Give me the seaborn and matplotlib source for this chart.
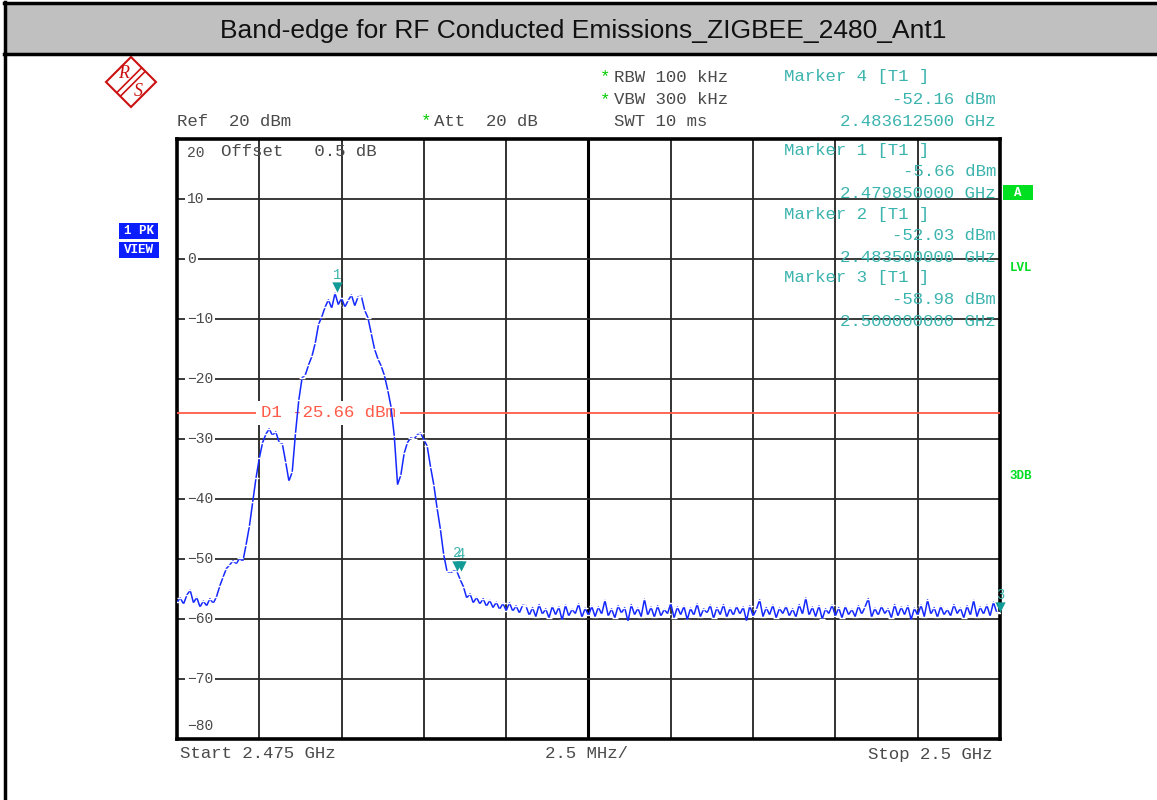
import numpy as np
import pandas as pd
import matplotlib
matplotlib.use("Agg")
import matplotlib.pyplot as plt
import matplotlib.patches as mpatches
from matplotlib import font_manager
from matplotlib.lines import Line2D
from matplotlib.transforms import offset_copy
import seaborn as sns

# sweep settings
start_ghz = 2.475
stop_ghz = 2.5
n_points = 251

# trace levels in dBm
levels = [
    -57.2, -56.5, -57.5, -56.0, -55.2, -57.3, -56.4, -58.0, -57.0, -57.8,
    -56.6, -57.4, -56.3, -54.5, -53.0, -51.6, -51.0, -50.3, -50.8, -49.9,
    -50.4, -47.6, -44.5, -40.5, -36.5, -33.2, -30.6, -29.2, -28.3, -29.4,
    -28.8, -30.5, -30.8, -33.8, -37.0, -35.5, -29.0, -23.5, -19.8, -19.3,
    -17.6, -16.2, -14.0, -10.9, -9.6, -8.0, -6.8, -8.2, -5.7, -7.6,
    -6.5, -8.0, -6.9, -6.0, -7.8, -6.3, -6.2, -8.5, -9.8, -12.4,
    -15.0, -16.6, -17.8, -19.4, -21.8, -24.6, -29.5, -37.6, -36.0, -32.4,
    -30.6, -29.8, -30.0, -29.3, -29.0, -30.1, -31.2, -34.6, -37.6, -41.5,
    -45.0, -49.2, -52.0, -52.4, -52.0, -52.03, -53.4, -54.6, -56.5, -55.8,
    -57.3, -56.4, -57.5, -56.6, -57.9, -56.9, -58.1, -57.2, -58.4, -57.4,
    -58.6, -57.3, -58.7, -57.8, -59.0, -57.7,
    -57.8, -59.4, -58.1, -59.6, -57.6, -59.2, -58.3, -59.8, -57.9, -59.3,
    -58.0, -60.2, -57.7, -59.5, -58.4, -59.1, -57.5, -59.7, -58.2, -59.4,
    -57.9, -59.6, -58.0, -59.2, -56.9, -59.5, -58.3, -59.8, -57.8, -59.0,
    -58.1, -60.4, -57.6, -59.3, -58.2, -59.6, -56.7, -59.4, -58.0, -59.7,
    -57.8, -59.5, -58.4, -59.1, -57.4, -59.8, -58.0, -59.3, -57.9, -60.1,
    -58.2, -59.4, -57.5, -59.6, -58.3, -59.0, -57.7, -59.9, -58.1, -59.3,
    -57.6, -59.7, -58.2, -59.4, -57.9, -59.2, -58.0, -60.3, -57.8, -59.5,
    -58.4, -56.8, -59.6, -58.1, -59.3, -57.7, -59.8, -58.2, -59.1, -57.9,
    -59.5, -58.3, -59.7, -57.6, -59.2, -56.5, -59.4, -58.0, -59.6, -57.8,
    -60.0, -58.3, -59.1, -57.7, -59.5, -58.1, -59.8, -57.9, -59.3, -58.4,
    -59.6, -57.8, -59.2, -58.0, -56.6, -59.7, -58.2, -59.4, -57.9, -59.1,
    -58.3, -59.8, -57.6, -59.5, -58.0, -59.3, -57.8, -60.1, -58.2, -59.4,
    -57.7, -59.6, -56.8, -59.2, -58.1, -59.7, -57.9, -59.3, -58.4, -59.5,
    -57.6, -59.1, -58.2, -59.8, -57.8, -59.4, -56.9, -59.6, -58.0, -59.2,
    -57.7, -59.5, -57.2, -58.9, -58.98,
]

# markers
marker_ids = ["1", "2", "3", "4"]
marker_freq = [2.47985, 2.4835, 2.5, 2.4836125]
marker_level = [-5.66, -52.03, -58.98, -52.16]

display_line = -25.66
y_ticks = [20, 10, 0, -10, -20, -30, -40, -50, -60, -70, -80]

freq = np.linspace(start_ghz, stop_ghz, n_points)
df = pd.DataFrame({"freq": freq, "level": levels})

W, H = 1157, 800
fig = plt.figure(figsize=(W / 100, H / 100), dpi=100)
mono = "Liberation Mono"
gray = "#4a4a4a"
teal = "#3cb4ae"
fs = 12.5


def fx(x):
    return x / W


def fy(y):
    return 1 - y / H


# title band and outer border
fig.patches.append(mpatches.Rectangle((fx(5), fy(53)), 1, 49 / H, transform=fig.transFigure,
                                      facecolor="#c0c0c0", edgecolor="none"))
fig.add_artist(Line2D([fx(4), 1], [fy(3), fy(3)], color="black", lw=2.5))
fig.add_artist(Line2D([fx(4), 1], [fy(53.5), fy(53.5)], color="black", lw=2.5))
fig.add_artist(Line2D([fx(5.5), fx(5.5)], [0, fy(2)], color="black", lw=2.5))

names = {f.name for f in font_manager.fontManager.ttflist}
if "Liberation Sans Narrow" in names:
    title_font, title_size = "Liberation Sans Narrow", 23
else:
    title_font, title_size = "Liberation Sans", 19
fig.text(fx(583), fy(31), "Band-edge for RF Conducted Emissions_ZIGBEE_2480_Ant1",
         ha="center", va="center", fontsize=title_size, family=title_font, color="#111111")

# R&S logo
cx, cy, r = 131, 82, 25
red = "#cc1111"
fig.add_artist(mpatches.Polygon([[fx(cx - r), fy(cy)], [fx(cx), fy(cy - r)], [fx(cx + r), fy(cy)],
                                 [fx(cx), fy(cy + r)]], closed=True, fill=False,
                                edgecolor=red, lw=1.5, transform=fig.transFigure))
for d in (-1.8, 1.8):
    fig.add_artist(Line2D([fx(cx - 12 + d), fx(cx + 12 + d)], [fy(cy + 12 + d), fy(cy - 12 + d)],
                          color=red, lw=1.2))
fig.text(fx(cx - 7), fy(cy - 8), "R", color=red, fontsize=13, style="italic",
         family="Liberation Serif", ha="center", va="center")
fig.text(fx(cx + 7), fy(cy + 9), "S", color=red, fontsize=13, style="italic",
         family="Liberation Serif", ha="center", va="center")

# header texts
hdr = dict(family=mono, fontsize=fs, va="center")
green = "#00cc00"
fig.text(fx(600), fy(77), "*", color=green, **hdr)
fig.text(fx(614), fy(77), "RBW 100 kHz", color=gray, **hdr)
fig.text(fx(600), fy(100), "*", color=green, **hdr)
fig.text(fx(614), fy(100), "VBW 300 kHz", color=gray, **hdr)
fig.text(fx(177), fy(121), "Ref  20 dBm", color=gray, **hdr)
fig.text(fx(421), fy(121), "*", color=green, **hdr)
fig.text(fx(434), fy(121), "Att  20 dB", color=gray, **hdr)
fig.text(fx(614), fy(121), "SWT 10 ms", color=gray, **hdr)
fig.text(fx(784), fy(77), "Marker 4 [T1 ]", color=teal, **hdr)
fig.text(fx(996), fy(100), "%.2f dBm" % marker_level[3], color=teal, ha="right", **hdr)
fig.text(fx(996), fy(121), "%.9f GHz" % marker_freq[3], color=teal, ha="right", **hdr)

# bottom texts
fig.text(fx(180), fy(754), "Start 2.475 GHz", color=gray, **hdr)
fig.text(fx(545), fy(754), "2.5 MHz/", color=gray, **hdr)
fig.text(fx(993), fy(754), "Stop 2.5 GHz", color=gray, ha="right", **hdr)

# side boxes
box = dict(family=mono, fontsize=9, weight="bold", va="center", ha="center")
blue = "#0a1eff"
fig.patches.append(mpatches.Rectangle((fx(119), fy(239)), 39 / W, 16 / H, transform=fig.transFigure,
                                      facecolor=blue, edgecolor="none"))
fig.patches.append(mpatches.Rectangle((fx(119), fy(258)), 40 / W, 16 / H, transform=fig.transFigure,
                                      facecolor=blue, edgecolor="none"))
fig.text(fx(138.5), fy(231), "1 PK", color="white", **box)
fig.text(fx(139), fy(250), "VIEW", color="white", **box)
fig.patches.append(mpatches.Rectangle((fx(1003), fy(200)), 30 / W, 15 / H, transform=fig.transFigure,
                                      facecolor="#00e020", edgecolor="none"))
fig.text(fx(1018), fy(193), "A", color="white", **box)
fig.text(fx(1021), fy(268), "LVL", color="#00dd22", **box)
fig.text(fx(1021), fy(476), "3DB", color="#00dd22", **box)

# main display
ax = fig.add_axes([fx(177), fy(739), 823 / W, 600 / H])
sns.lineplot(data=df, x="freq", y="level", ax=ax, color="#1428ff", lw=1.1, sort=False,
             estimator=None, marker="_", markersize=4, markeredgewidth=1.0, zorder=4)
ax.set_xlim(start_ghz, stop_ghz)
ax.set_ylim(-80, 20)
ax.set_xlabel("")
ax.set_ylabel("")
ax.set_xticks([])
ax.set_yticks([])
for s in ax.spines.values():
    s.set_linewidth(2.6)
    s.set_color("black")

step = (stop_ghz - start_ghz) / 10
for k in range(1, 10):
    ax.axvline(start_ghz + k * step, color="#222222" if k != 5 else "black",
               lw=1.3 if k != 5 else 2.2, zorder=1)
for v in y_ticks[1:-1]:
    ax.axhline(v, color="#2a2a2a", lw=1.3, zorder=1)

# y labels inside the grid
for v in y_ticks:
    yy = v
    if v == 20:
        yy = 17.7
    if v == -80:
        yy = -77.8
    ax.text(start_ghz + 0.0003, yy, str(v).replace("-", "\u2212"), family=mono, fontsize=10.5,
            color=gray, va="center", ha="left", zorder=2,
            bbox=dict(boxstyle="square,pad=0.15", fc="white", ec="none"))
ax.text(2.47634, 18.0, "Offset   0.5 dB", family=mono, fontsize=fs, color=gray, va="center", zorder=2)

# display line D1
ax.axhline(display_line, color="#ff5a48", lw=1.3, zorder=3)
ax.text(2.47754, display_line, "D1 %.2f dBm" % display_line, family=mono, fontsize=fs,
        color="#ff5a48", va="center", zorder=3,
        bbox=dict(boxstyle="square,pad=0.25", fc="white", ec="none"))

# marker readouts inside the display
for mid, row in [(0, 150), (1, 214), (2, 278)]:
    t = dict(family=mono, fontsize=fs, color=teal, va="center", transform=fig.transFigure, zorder=5)
    ax.text(fx(784), fy(row), "Marker %s [T1 ]" % marker_ids[mid], **t)
    ax.text(fx(996), fy(row + 22), "%.2f dBm" % marker_level[mid], ha="right", **t)
    ax.text(fx(996), fy(row + 43), "%.9f GHz" % marker_freq[mid], ha="right", **t)

# marker triangles
tri_tr = offset_copy(ax.transData, fig=fig, x=0, y=4, units="points")
ax.scatter(marker_freq, marker_level, marker="v", s=55, color="#129a96", transform=tri_tr,
           zorder=6, clip_on=False, linewidths=0)
lab_tr = offset_copy(ax.transData, fig=fig, x=0, y=13, units="points")
for mid, f, l in zip(marker_ids, marker_freq, marker_level):
    ax.text(f, l, mid, transform=lab_tr, ha="center", va="center", family=mono, fontsize=10,
            color=teal, zorder=6, clip_on=False)

fig.savefig("out.png", dpi=100)
